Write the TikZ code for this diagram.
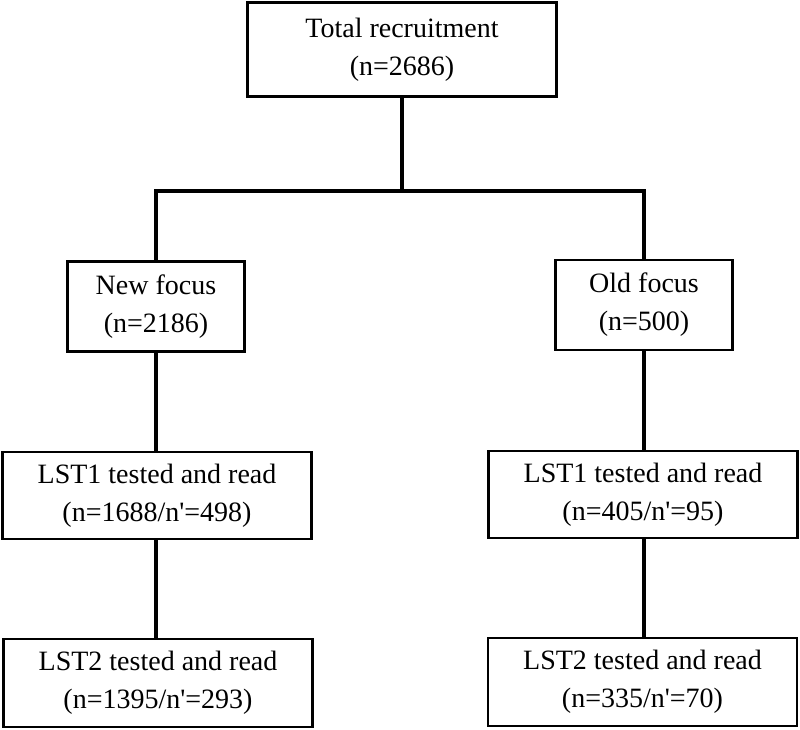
\documentclass[tikz,border=0pt]{standalone}
\usepackage{fontspec}
\setmainfont{Liberation Serif}
\usepackage{tikz}
\usetikzlibrary{positioning}
\tikzset{
  box/.style={draw,line width=2.5pt,align=center,inner sep=0pt,minimum height=90pt,font=\fontsize{28}{38}\selectfont},
  smallbox/.style={box,minimum width=177pt},
  widebox/.style={box,minimum width=309pt},
  link/.style={line width=3.5pt}
}
\newcommand{\nq}{n\textquotesingle}

\begin{document}
\begin{tikzpicture}[x=1pt,y=-1pt]
  \useasboundingbox (0,0) rectangle (800,729);
  % boxes
  \node[widebox,minimum height=94pt] (total) at (402,49.5) {Total recruitment\\(n=2686)};
  \node[smallbox] (newf) at (156,306.5) {New focus\\(n=2186)};
  \node[smallbox] (oldf) at (644,305) {Old focus\\(n=500)};
  \node[widebox,minimum height=87pt] (newlsta) at (157,495.5) {LST1 tested and read\\(n=1688/\nq=498)};
  \node[widebox,minimum height=87pt] (oldlsta) at (643,494.5) {LST1 tested and read\\(n=405/\nq=95)};
  \node[widebox,minimum height=88pt] (newlstb) at (158,683) {LST2 tested and read\\(n=1395/\nq=293)};
  \node[widebox,minimum height=88pt] (oldlstb) at (642.5,682) {LST2 tested and read\\(n=335/\nq=70)};
  % links
  \coordinate (split) at (402,191);
  \draw[link] (total.south) -- (split);
  \draw[link] (newf.north) |- (split) -| (oldf.north);
  \draw[link] (newf.south) -- (newf.south |- newlsta.north);
  \draw[link] (oldf.south) -- (oldf.south |- oldlsta.north);
  \draw[link] (newlsta.south -| newf.south) -- (newlstb.north -| newf.south);
  \draw[link] (oldlsta.south -| oldf.south) -- (oldlstb.north -| oldf.south);
\end{tikzpicture}
\end{document}
